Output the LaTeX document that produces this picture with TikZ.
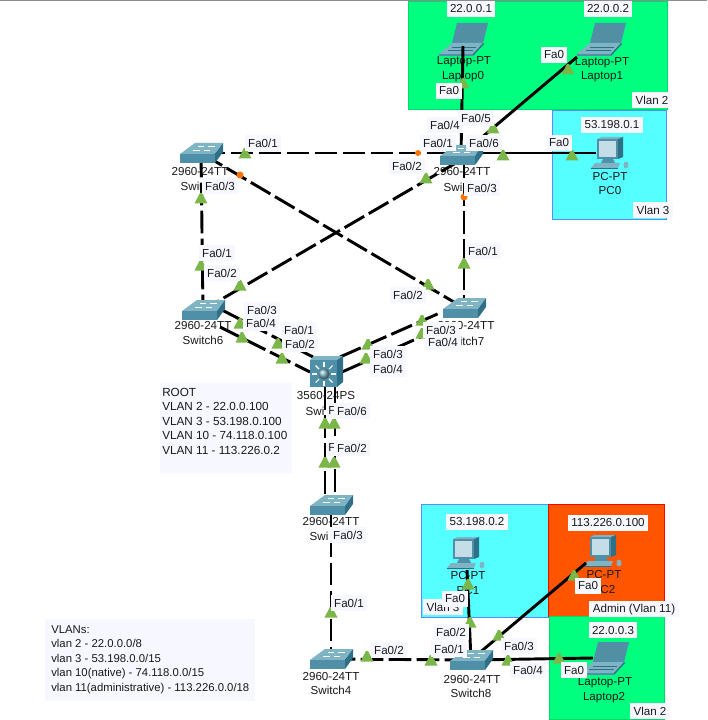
\documentclass[tikz,border=0pt]{standalone}
\usepackage{fontspec}
\setmainfont{Liberation Sans}
\usetikzlibrary{calc}
\definecolor{zgreen}{HTML}{00FF7F}
\definecolor{zcyan}{HTML}{55FFFF}
\definecolor{zorange}{HTML}{FF5500}
\definecolor{zblue}{HTML}{5A8CFF}
\definecolor{lbg}{HTML}{F7F8FF}
\definecolor{tealA}{HTML}{7FB4C4}
\definecolor{tealB}{HTML}{4F8FA8}
\definecolor{tealC}{HTML}{2F7088}
\definecolor{scr}{HTML}{C4DDE6}
\definecolor{trig}{HTML}{7AB648}
\tikzset{
  devnode/.style={inner sep=0pt,minimum size=2pt},
  dev/.style={font=\fontsize{8.7pt}{10pt}\selectfont,inner sep=0pt,text=black!90},
  port/.style={font=\fontsize{8.7pt}{10pt}\selectfont,fill=lbg,inner xsep=2.6pt,inner ysep=0pt,minimum height=12pt,text=black!90},
  note/.style={font=\fontsize{8.8pt}{10.8pt}\selectfont,align=left,anchor=north west,inner sep=0pt,text=black!90},
  notesmall/.style={note,font=\fontsize{8.5pt}{10.9pt}\selectfont},
  notebox/.style={fill=lbg,anchor=north west,inner sep=0pt},
  solidlink/.style={line width=2.2pt,black},
  dashlink/.style={line width=2.2pt,black,dash pattern=on 17pt off 4pt},
  tri/.style={fill=trig},
  dot/.style={fill=orange!90!red},
}
\newcommand{\swicon}[1]{\begin{scope}[shift={(#1.center)}]
  \fill[tealA] (-6,-10)--(22,-10)--(14,1)--(-21,1)--cycle;
  \fill[tealB] (-21,1)--(14,1)--(14,10)--(-21,10)--cycle;
  \fill[tealC] (14,1)--(22,-10)--(22,-1)--(14,10)--cycle;
  \draw[white,line width=.6pt] (-8,-3)--(-1,-3) (3,-3)--(9,-3) (-3,-7)--(3,-7) (7,-7)--(14,-7);
\end{scope}}
\newcommand{\lapicon}[1]{\begin{scope}[shift={(#1.center)}]
  \fill[tealB] (-6,-18)--(25,-18)--(20,2)--(-11,2)--cycle;
  \fill[tealC!55!tealA] (-3,-15)--(21,-15)--(17,0)--(-7,0)--cycle;
  \fill[tealA] (-11,2)--(20,2)--(10,13)--(-24,13)--cycle;
  \fill[tealC] (20,2)--(10,13)--(10,15)--(21,3)--cycle;
  \fill[tealB] (-24,13)--(10,13)--(10,15)--(-24,15)--cycle;
  \draw[tealC,line width=.5pt] (-11,6)--(13,6) (-15,9)--(10,9);
\end{scope}}
\newcommand{\pcicon}[1]{\begin{scope}[shift={(#1.center)}]
  \fill[tealA] (-11,-16)--(-6,-18)--(15,-18)--(10,-16)--cycle;
  \fill[tealC] (10,-16)--(15,-18)--(15,2)--(10,4)--cycle;
  \fill[tealB] (-11,-16) rectangle (10,4);
  \fill[scr] (-9,-14) rectangle (8,2);
  \fill[tealB] (-5,4)--(5,4)--(7,8)--(-7,8)--cycle;
  \fill[tealA] (-13,8)--(12,8)--(10,13)--(-17,13)--cycle;
  \fill[tealC] (-17,13)--(10,13)--(10,14)--(-17,14)--cycle;
  \fill[tealA] (18,10) ellipse (2.5 and 3.5);
\end{scope}}
\newcommand{\mlicon}[1]{\begin{scope}[shift={(#1.center)}]
  \fill[tealA] (-15,-14)--(-11,-18)--(18,-18)--(12,-14)--cycle;
  \fill[tealC] (12,-14)--(18,-18)--(18,8)--(12,13)--cycle;
  \fill[tealB] (-15,-14) rectangle (12,13);
  \foreach \a in {0,45,...,315}{\draw[white,line width=.8pt] ($(-1,0)+(\a:7)$)--($(-1,0)+(\a:12)$);}
  \shade[ball color=tealA] (-1,0) circle (5.5);
\end{scope}}
\newcommand{\trg}[2]{\fill[tri] (#1-6.5,#2+5.5)--(#1-1,#2-5)--(#1+1,#2-5)--(#1+6.5,#2+5.5)--cycle;}
\begin{document}
\begin{tikzpicture}[x=0.75pt,y=-0.75pt]
\useasboundingbox (0,0) rectangle (707,720);
\fill[white] (0,0) rectangle (707,720);
\fill[black!45] (0,0) rectangle (707,1);
% zones
\draw[zgreen!85!black,fill=zgreen,line width=.5pt] (408,1) rectangle (667,109);
\draw[zblue,fill=zcyan,line width=.6pt] (552,110) rectangle (666,219);
\draw[zblue,fill=zcyan,line width=.6pt] (421,504) rectangle (548,617);
\draw[red,fill=zorange,line width=.6pt] (548,504) rectangle (664,616);
\draw[zgreen!85!black,fill=zgreen,line width=.5pt] (549,616) rectangle (664,719);
% device anchors
\node[devnode] (lap0) at (463,41) {};
\node[devnode] (lap1) at (601,41) {};
\node[devnode] (pc0) at (608,155) {};
\node[devnode] (swT) at (461,155) {};
\node[devnode] (swL) at (201,153) {};
\node[devnode] (sw6) at (203,310) {};
\node[devnode] (sw7) at (464,308) {};
\node[devnode] (ml) at (325,374) {};
\node[devnode] (sw9) at (331,505) {};
\node[devnode] (sw4) at (331,659) {};
\node[devnode] (sw8) at (471,660) {};
\node[devnode] (pc1) at (464,555) {};
\node[devnode] (pc2) at (601,553) {};
\node[devnode] (lap2) at (604,660) {};
% notes
\node[notebox,minimum width=99pt,minimum height=67.5pt] (rootnote) at (160,383) {};
\node[note] (roottext) at (162,388) {ROOT\\VLAN 2 - 22.0.0.100\\VLAN 3 - 53.198.0.100\\VLAN 10 - 74.118.0.100\\VLAN 11 - 113.226.0.2};
% device labels
\node[dev] (d1) at (464,62) {Laptop-PT};
\node[dev] (d2) at (463,77) {Laptop0};
\node[dev] (d3) at (602,63) {Laptop-PT};
\node[dev] (d4) at (602,77) {Laptop1};
\node[dev] (d5) at (610,177) {PC-PT};
\node[dev] (d6) at (610,191) {PC0};
\node[dev] (d7) at (462,172) {2960-24TT};
\node[dev] (d8) at (453,187) {Swi};
\node[dev] (d9) at (200,172) {2960-24TT};
\node[dev] (d10) at (190,186) {Swi};
\node[dev] (d11) at (203,326) {2960-24TT};
\node[dev] (d12) at (203,340) {Switch6};
\node[dev] (d13) at (466,326) {2960-24TT};
\node[dev] (d14) at (464,341) {Switch7};
\node[dev] (d15) at (326,396) {3560-24PS};
\node[dev] (d16) at (315,411) {Swi};
\node[dev] (d17) at (331,522) {2960-24TT};
\node[dev] (d18) at (319,536) {Swi};
\node[dev] (d19) at (331,676) {2960-24TT};
\node[dev] (d20) at (331,690) {Switch4};
\node[dev] (d21) at (472,679) {2960-24TT};
\node[dev] (d22) at (471,693) {Switch8};
\node[dev] (d23) at (468,576) {PC-PT};
\node[dev] (d24) at (468,591) {PC1};
\node[dev] (d25) at (604,575) {PC-PT};
\node[dev] (d26) at (604,590) {PC2};
\node[dev] (d27) at (605,683) {Laptop-PT};
\node[dev] (d28) at (604,698) {Laptop2};
% icons under the links
\lapicon{lap0}\lapicon{lap1}\pcicon{pc0}\pcicon{pc1}\pcicon{pc2}\lapicon{lap2}
% links
\draw[solidlink] ($(lap0)+(0,5)$) -- (swT);
\draw[solidlink] ($(lap1)+(-24,16)$) -- (swT);
\draw[solidlink] ($(swT)+(0,-2)$) -- ($(pc0)+(-12,-2)$);
\draw[dashlink] (swL) -- ($(swT)+(0,-2)$);
\draw[dashlink] ($(swT)+(0,5)$) -- (sw6);
\draw[dashlink] ($(swT)+(3,0)$) -- (sw7);
\draw[dashlink] (swL) -- (sw6);
\draw[dashlink] (swL) -- (sw7);
\draw[dashlink] ($(sw6)+(19,0)$) -- ($(ml)+(-12,-17)$);
\draw[dashlink] ($(sw6)+(17,17)$) -- ($(ml)+(-15,-2)$);
\draw[dashlink] ($(ml)+(15,-17)$) -- ($(sw7)+(-22,4)$);
\draw[dashlink] ($(ml)+(17,-2)$) -- ($(sw7)+(-21,19)$);
\draw[dashlink] ($(ml)+(0,13)$) -- ($(sw9)+(-6,-10)$);
\draw[dashlink] ($(ml)+(10,11)$) -- ($(sw9)+(4,-10)$);
\draw[dashlink] (sw9) -- (sw4);
\draw[dashlink] (sw4) -- (sw8);
\draw[solidlink] (sw8) -- ($(pc1)+(3,15)$);
\draw[solidlink] (sw8) -- ($(pc2)+(-15,10)$);
\draw[solidlink] (sw8) -- ($(lap2)+(-11,-2)$);
% switch icons
\swicon{swT}\swicon{swL}\swicon{sw6}\swicon{sw7}\swicon{sw9}\swicon{sw4}\swicon{sw8}\mlicon{ml}
% orange port dots
\fill[dot] (464,197) circle (3.5);
\fill[dot] (418,153) circle (3);
\fill[dot] (240,175) circle (3.5);
% green port triangles
\trg{463}{83}\trg{493}{128}\trg{568}{69}\trg{503}{155}\trg{572}{155}
\trg{426}{178}\trg{245}{153}\trg{201}{198}\trg{201}{265}\trg{240}{285}
\trg{464}{263}\trg{428}{284}\trg{240}{323}\trg{242}{337}\trg{278}{343}
\trg{282}{358}\trg{368}{344}\trg{366}{358}\trg{422}{320}\trg{422}{333}
\trg{325}{423}\trg{334}{423}\trg{325}{462}\trg{334}{462}\trg{331}{612}
\trg{431}{660}\trg{367}{656}\trg{470}{622}\trg{468}{584}\trg{499}{635}
\trg{574}{575}\trg{508}{660}\trg{559}{658}
% interface and address labels
\node[port] (p1) at (471,9) {22.0.0.1};
\node[port] (p2) at (608,9) {22.0.0.2};
\node[port] (p3) at (554,55) {Fa0};
\node[port] (p4) at (449,91) {Fa0};
\node[port] (p5) at (652,100) {Vlan 2};
\node[port] (p6) at (445,125) {Fa0/4};
\node[port] (p7) at (476,118) {Fa0/5};
\node[port] (p8) at (438,143) {Fa0/1};
\node[port] (p9) at (484,143) {Fa0/6};
\node[port] (p10) at (559,143) {Fa0};
\node[port] (p11) at (612,125) {53.198.0.1};
\node[port] (p12) at (407,166) {Fa0/2};
\node[port] (p13) at (482,188) {Fa0/3};
\node[port] (p14) at (653,210) {Vlan 3};
\node[port] (p15) at (263,143) {Fa0/1};
\node[port] (p16) at (220,186) {Fa0/3};
\node[port] (p17) at (217,253) {Fa0/1};
\node[port] (p18) at (222,273) {Fa0/2};
\node[port] (p19) at (483,251) {Fa0/1};
\node[port] (p20) at (408,295) {Fa0/2};
\node[port] (p21) at (262,310) {Fa0/3};
\node[port] (p22) at (261,323) {Fa0/4};
\node[port] (p23) at (299,330) {Fa0/1};
\node[port] (p24) at (300,344) {Fa0/2};
\node[port] (p25) at (441,330) {Fa0/3};
\node[port] (p26) at (443,342) {Fa0/4};
\node[port] (p27) at (388,354) {Fa0/3};
\node[port] (p28) at (388,369) {Fa0/4};
\node[port,inner xsep=1pt] (p29) at (332,411) {F};
\node[port] (p30) at (352,411) {Fa0/6};
\node[port,inner xsep=1pt] (p31) at (332,448) {F};
\node[port] (p32) at (352,448) {Fa0/2};
\node[port] (p33) at (348,535) {Fa0/3};
\node[port] (p34) at (349,603) {Fa0/1};
\node[port] (p35) at (389,650) {Fa0/2};
\node[port] (p36) at (477,522) {53.198.0.2};
\node[port] (p37) at (443,607) {Vlan 3};
\node[port] (p38) at (455,599) {Fa0};
\node[port] (p39) at (451,632) {Fa0/2};
\node[port] (p40) at (449,649) {Fa0/1};
\node[port] (p41) at (608,523) {113.226.0.100};
\node[port] (p42) at (588,586) {Fa0};
\node[port] (p43) at (634,609) {Admin (Vlan 11)};
\node[port] (p44) at (613,630) {22.0.0.3};
\node[port] (p45) at (519,646) {Fa0/3};
\node[port] (p46) at (528,670) {Fa0/4};
\node[port] (p47) at (574,670) {Fa0};
\node[port] (p48) at (650,711) {Vlan 2};
% VLAN note
\node[notebox,minimum width=157.5pt,minimum height=61.5pt] (vnote) at (45,619) {};
\node[notesmall] (vtext) at (51,625) {VLANs:\\vlan 2 - 22.0.0.0/8\\vlan 3 - 53.198.0.0/15\\vlan 10(native) - 74.118.0.0/15\\vlan 11(administrative) - 113.226.0.0/18};
\end{tikzpicture}
\end{document}
